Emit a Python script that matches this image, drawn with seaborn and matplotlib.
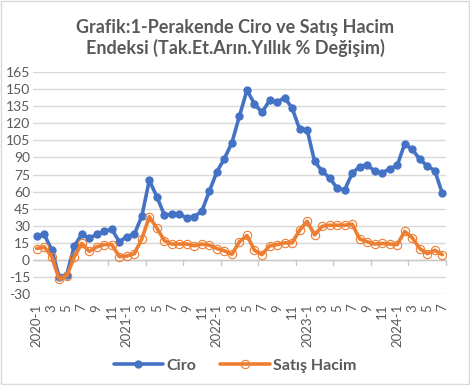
import numpy as np
import pandas as pd
import matplotlib
matplotlib.use("Agg")
import matplotlib.pyplot as plt
import seaborn as sns
from matplotlib.patches import Rectangle

# aylik veriler 2020-1 .. 2024-7
months = [f"{y}-{m}" for y in range(2020, 2025) for m in range(1, 13)][:55]
ciro = [21, 22.5, 9, -15, -13, 12, 22.5, 19, 22.5, 25, 27, 16,
        20.5, 22.5, 38.5, 70, 55.5, 39.5, 40, 40, 37, 38, 43, 60.5,
        77.5, 89, 103, 126.5, 149, 137, 129.5, 140, 138.5, 142.5, 133.5, 115,
        114.5, 86.5, 78, 72, 63, 61.5, 76, 82, 83.5, 78, 76.5, 80,
        83, 102, 97, 88.5, 82.5, 78.5, 58.5]
satis = [10, 11.5, 3, -17, -14, 2.5, 14.5, 7.5, 11.5, 13.5, 13.5, 3,
         3.5, 5.5, 18.5, 38, 28, 17, 14, 14, 14, 12.5, 14, 13,
         10, 8, 5, 16, 21.5, 8.5, 4.7, 12.3, 13.5, 15, 15, 26,
         34, 22, 29.5, 30.5, 30.5, 30.5, 31.5, 18.5, 16, 14, 14.5, 14,
         13.5, 25, 19.5, 10, 5.5, 8.5, 4.7]
yticks = list(range(-30, 166, 15))

df = pd.DataFrame({"idx": np.arange(len(months)), "Ciro": ciro, "Satış Hacim": satis})
tick_labels = [m if m.endswith("-1") else m.split("-")[1] for m in months]

sns.set_theme(style="white")
plt.rcParams["font.family"] = ["Lato", "DejaVu Sans"]
GRAY = "#595959"
BLUE = "#4472C4"
ORANGE = "#ED7D31"

fig = plt.figure(figsize=(4.7, 3.85), dpi=100)
ax = fig.add_axes([0.070, 0.236, 0.879, 0.577])

for v in yticks:
    ax.axhline(v, color="#D9D9D9", lw=1, zorder=0)

sns.lineplot(data=df, x="idx", y="Ciro", ax=ax, color=BLUE, lw=2.6,
             marker="o", markersize=6, markeredgewidth=0, label="Ciro")
sns.lineplot(data=df, x="idx", y="Satış Hacim", ax=ax, color=ORANGE, lw=2.6,
             marker="o", markersize=6, markerfacecolor="none",
             markeredgecolor=ORANGE, markeredgewidth=0.8, label="Satış Hacim")

ax.set_xlim(-0.5, len(months) - 0.5)
ax.set_ylim(-30, 165)
ax.set_yticks(yticks)
ax.set_yticklabels([str(v) for v in yticks], color=GRAY, fontsize=10)
ax.set_xticks(df["idx"][::2])
ax.set_xticklabels(tick_labels[::2], rotation=90, color=GRAY, fontsize=9.5)
ax.tick_params(axis="y", length=0, pad=2)
ax.tick_params(axis="x", length=0, pad=7)
ax.set_xlabel("")
ax.set_ylabel("")
for s in ax.spines.values():
    s.set_visible(False)

# kategori ekseni sifirda, isaretler 5 ayda bir
ax.axhline(0, color="#C8C8C8", lw=1, zorder=1)
for t in np.arange(4.5, len(months), 5):
    ax.plot([t, t], [0, -4], color="#C8C8C8", lw=1, zorder=1, clip_on=False)

ax.get_legend().remove()
h, l = ax.get_legend_handles_labels()
leg = fig.legend(h, l, loc="center", bbox_to_anchor=(0.5, 0.05), ncol=2, frameon=False,
                 handlelength=3.1, columnspacing=1.5, handletextpad=0.2,
                 prop={"weight": "bold", "size": 11.5})
for t in leg.get_texts():
    t.set_color(GRAY)

fig.suptitle("Grafik:1-Perakende Ciro ve Satış Hacim\nEndeksi (Tak.Et.Arın.Yıllık % Değişim)",
             x=0.5, y=0.95, fontsize=13, fontweight="bold", color=GRAY, linespacing=1.2)

fig.patches.append(Rectangle((0.002, 0.002), 0.995, 0.995, transform=fig.transFigure,
                             fill=False, edgecolor="#D9D9D9", lw=1))

fig.savefig("out.png", dpi=100)
